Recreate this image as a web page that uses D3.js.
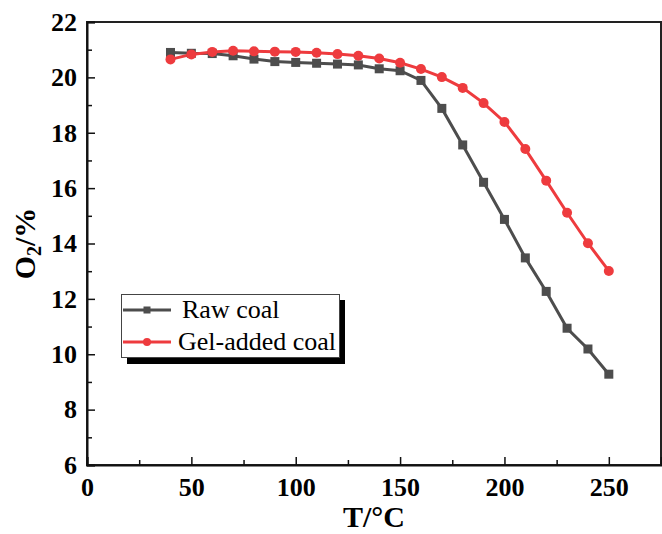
<!DOCTYPE html>
<html><head><meta charset="utf-8">
<script src="https://cdn.jsdelivr.net/npm/d3@7"></script>
<style>body{margin:0;background:#fff}svg{display:block}
svg text{font-family:"Liberation Serif";}</style>
</head><body>
<svg id="c" width="662" height="534"></svg>
<script>
const temps = [40,50,60,70,80,90,100,110,120,130,140,150,160,170,180,190,200,210,220,230,240,250];
const rawCoal = [20.90,20.87,20.86,20.78,20.66,20.57,20.54,20.51,20.48,20.45,20.31,20.24,19.89,18.88,17.56,16.21,14.87,13.48,12.27,10.94,10.19,9.28];
const gelCoal = [20.65,20.83,20.92,20.96,20.94,20.93,20.92,20.89,20.84,20.78,20.68,20.53,20.30,20.01,19.62,19.07,18.39,17.41,16.27,15.11,14.01,13.01];
const seriesNames = ["Raw coal","Gel-added coal"];
const xTicks = [0,50,100,150,200,250];
const yTicks = [6,8,10,12,14,16,18,20,22];

const svg = d3.select("#c");
const L=87, R=661, T=22, B=465;
const x = d3.scaleLinear().domain([0,275]).range([L,R]);
const y = d3.scaleLinear().domain([6,22]).range([B,T]);
const font = "Liberation Serif";

// frame
svg.append("rect").attr("x",L).attr("y",T).attr("width",R-L).attr("height",B-T)
  .attr("fill","none").attr("stroke","#222").attr("stroke-width",2);

// x axis
const xAx = svg.append("g").attr("transform",`translate(0,${B})`)
  .call(d3.axisBottom(x).tickValues(xTicks).tickSize(-8).tickPadding(13).tickFormat(d3.format("d")));
xAx.attr("font-family",null);
xAx.select(".domain").attr("stroke","#111").attr("stroke-width",2);
xAx.selectAll(".tick line").attr("stroke","#111").attr("stroke-width",1.5);
xAx.selectAll("text").style("font-family",font).style("font-weight","bold").style("font-size","26px").attr("fill","#000");
svg.append("g").attr("transform",`translate(0,${B})`)
  .call(d3.axisBottom(x).tickValues([25,75,125,175,225]).tickSize(-5).tickFormat(""))
  .call(g=>{g.select(".domain").remove();g.selectAll("line").attr("stroke","#111").attr("stroke-width",1.5);});

// y axis
const yAx = svg.append("g").attr("transform",`translate(${L},0)`)
  .call(d3.axisLeft(y).tickValues(yTicks).tickSize(-8).tickPadding(10).tickFormat(d3.format("d")));
yAx.attr("font-family",null);
yAx.select(".domain").attr("stroke","#111").attr("stroke-width",2);
yAx.selectAll(".tick line").attr("stroke","#111").attr("stroke-width",1.5);
yAx.selectAll("text").style("font-family",font).style("font-weight","bold").style("font-size","26px").attr("fill","#000");
svg.append("g").attr("transform",`translate(${L},0)`)
  .call(d3.axisLeft(y).tickValues([7,9,11,13,15,17,19,21]).tickSize(-5).tickFormat(""))
  .call(g=>{g.select(".domain").remove();g.selectAll("line").attr("stroke","#111").attr("stroke-width",1.5);});

// axis titles
svg.append("text").attr("x",(L+R)/2).attr("y",527).attr("text-anchor","middle")
  .style("font-family",font).style("font-weight","bold").style("font-size","30px").text("T/°C");
const yl = svg.append("text").attr("transform",`translate(35,${(T+B)/2}) rotate(-90)`)
  .attr("text-anchor","middle").style("font-family",font).style("font-weight","bold").style("font-size","30px");
yl.append("tspan").text("O");
yl.append("tspan").style("font-size","20px").attr("dy",6).text("2");
yl.append("tspan").attr("dy",-6).text("/%");

const colors = ["#4d4d4d","#ee3b3e"];
const data = [rawCoal, gelCoal];
const line = d3.line().x((d,i)=>x(temps[i])).y(d=>y(d));
data.forEach((s,k)=>{
  svg.append("path").datum(s).attr("d",line).attr("fill","none")
    .attr("stroke",colors[k]).attr("stroke-width",3);
});
// markers
svg.append("g").selectAll("rect").data(rawCoal).join("rect")
  .attr("x",(d,i)=>x(temps[i])-4.5).attr("y",d=>y(d)-4.5).attr("width",9).attr("height",9).attr("fill",colors[0]);
svg.append("g").selectAll("circle").data(gelCoal).join("circle")
  .attr("cx",(d,i)=>x(temps[i])).attr("cy",d=>y(d)).attr("r",5).attr("fill",colors[1]);

// legend
const lg = svg.append("g");
lg.append("rect").attr("x",127).attr("y",300).attr("width",218).attr("height",64).attr("fill","#000");
lg.append("rect").attr("x",121.5).attr("y",294.5).attr("width",218).attr("height",63).attr("fill","#fff").attr("stroke","#444").attr("stroke-width",1);
const rows=[310,342];
rows.forEach((ry,k)=>{
  lg.append("line").attr("x1",123).attr("x2",171).attr("y1",ry).attr("y2",ry).attr("stroke",colors[k]).attr("stroke-width",3);
  if(k===0) lg.append("rect").attr("x",143.5).attr("y",ry-3.5).attr("width",7).attr("height",7).attr("fill",colors[0]);
  else lg.append("circle").attr("cx",147).attr("cy",ry).attr("r",4).attr("fill",colors[1]);
  lg.append("text").attr("x",k===0?182:178).attr("y",ry+8).style("font-family",font).style("font-size","26px")
    .attr("fill","#000").text(seriesNames[k]);
});
</script>
</body></html>
